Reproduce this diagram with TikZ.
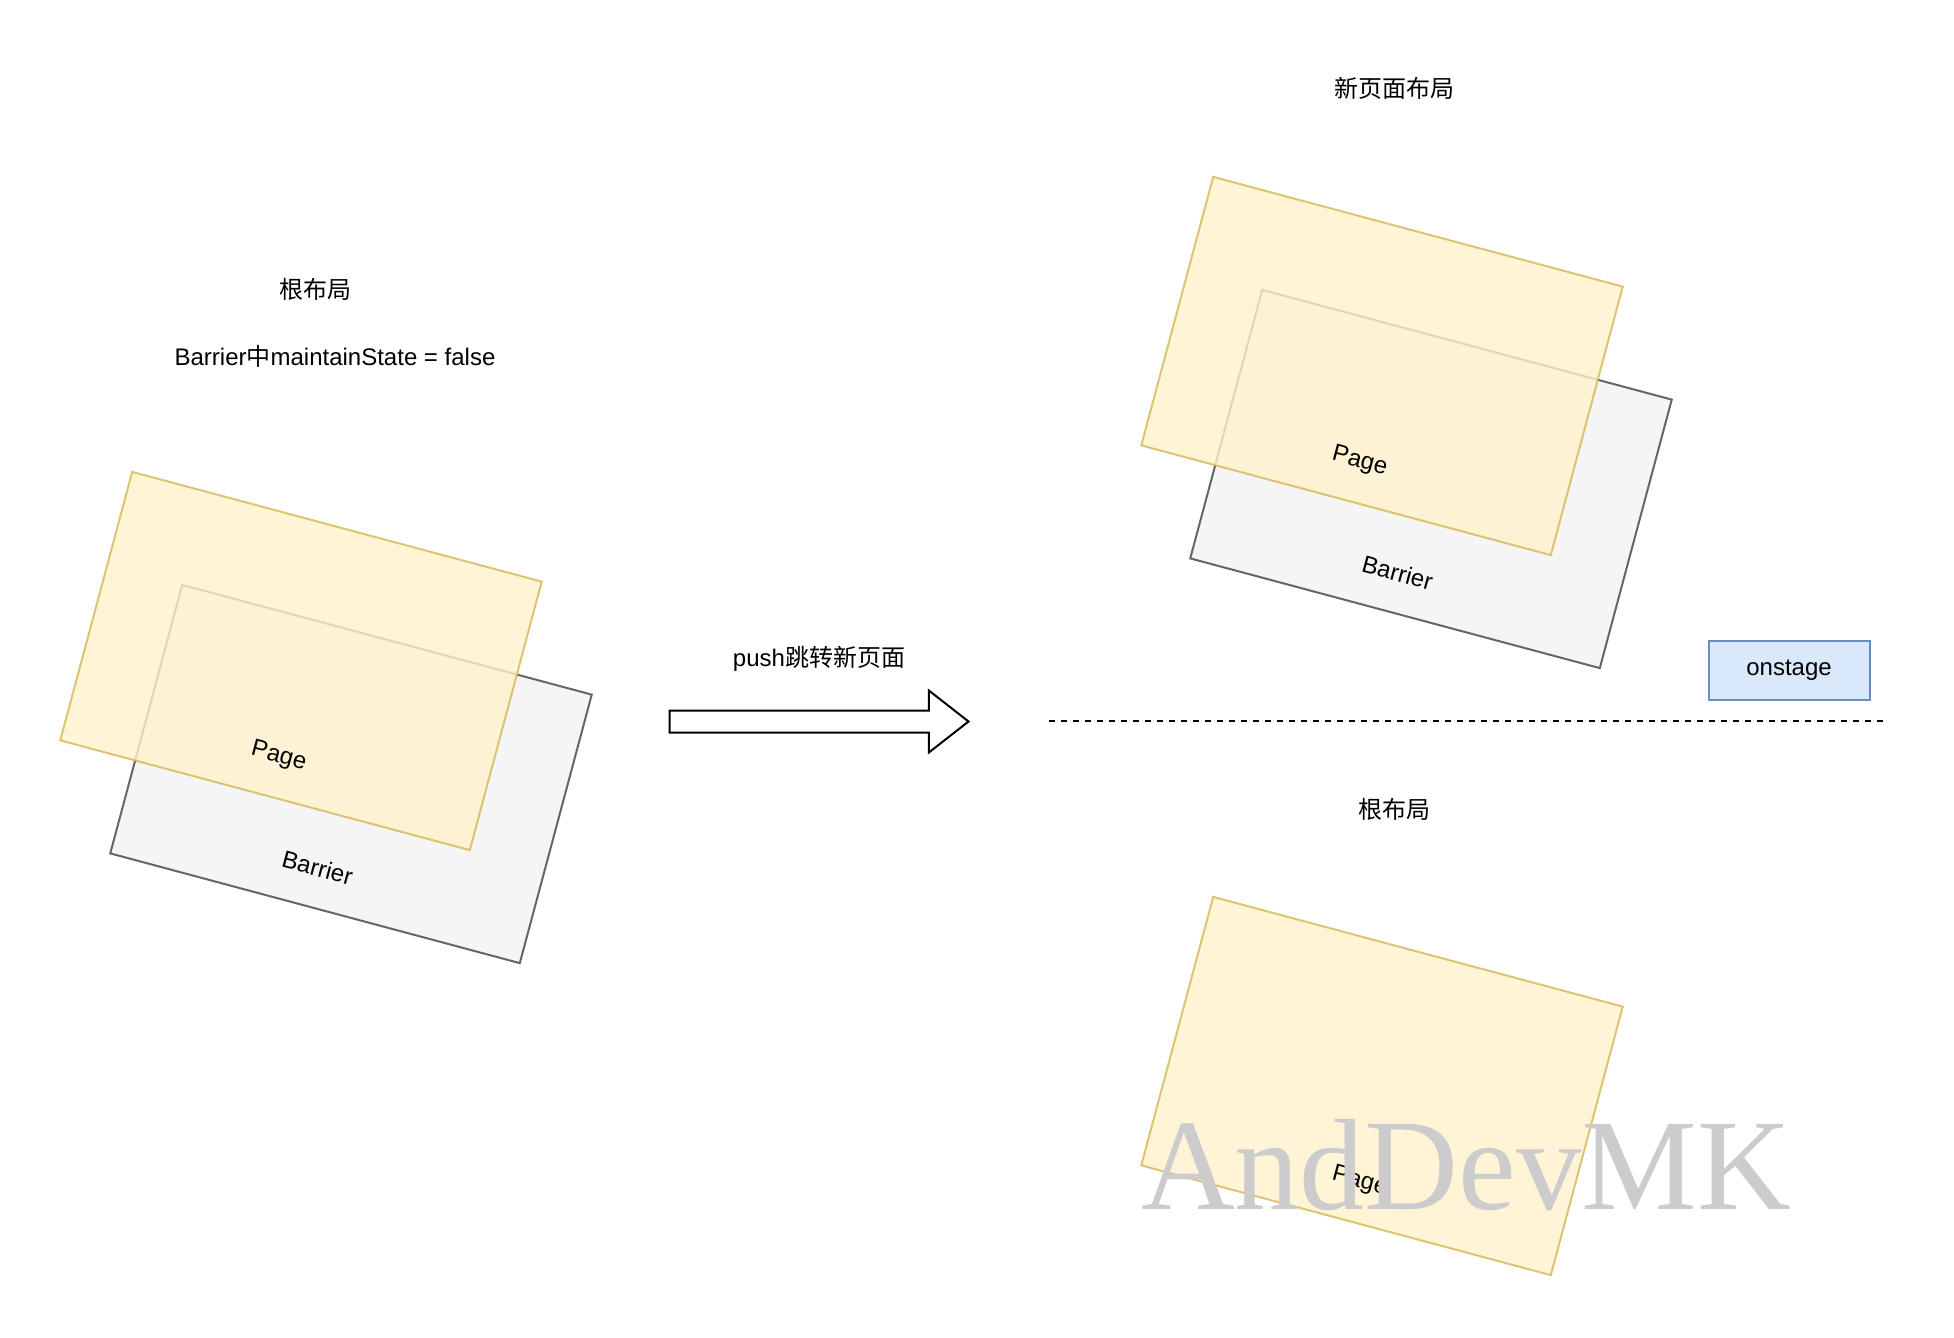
\documentclass[tikz,border=0pt]{standalone}
\usepackage{fontspec}
\setmainfont{Liberation Sans}
\newfontfamily\cjk{Noto Sans CJK SC}
\newfontfamily\wmfont{Liberation Serif}
\usepackage{tikz}
\usetikzlibrary{shapes.arrows}

\definecolor{pagefill}{HTML}{FFF2CC}
\definecolor{pageline}{HTML}{D6B656}
\definecolor{barrierfill}{HTML}{F5F5F5}
\definecolor{barrierline}{HTML}{666666}
\definecolor{stagefill}{HTML}{DAE8FC}
\definecolor{stageline}{HTML}{6C8EBF}
\definecolor{wmgray}{HTML}{CCCCCC}

\begin{document}
\begin{tikzpicture}[x=0.5pt,y=-0.5pt]
  \tikzset{PageStyle/.style = {
    shape         = rectangle,
    draw          = pageline,
    fill          = pagefill,
    opacity       = 0.8,
    line width    = 1pt,
    minimum width = 212pt,
    minimum height= 139pt,
    inner sep     = 0pt,
    rotate        = -15
    }
  }
  \tikzset{BarrierStyle/.style = {
    shape         = rectangle,
    draw          = barrierline,
    fill          = barrierfill,
    line width    = 1pt,
    minimum width = 212pt,
    minimum height= 139pt,
    inner sep     = 0pt,
    rotate        = -15
    }
  }
  \tikzset{TextStyle/.style = {
    text          = black,
    inner sep     = 1pt,
    font          = \fontsize{12}{14}\selectfont
    }
  }
  \tikzset{LabelStyle/.style = {
    TextStyle,
    rotate        = -15
    }
  }
  \tikzset{StageStyle/.style = {
    TextStyle,
    shape         = rectangle,
    draw          = stageline,
    fill          = stagefill,
    line width    = 1pt,
    minimum width = 80.5pt,
    minimum height= 29.5pt
    }
  }
  \tikzset{PushStyle/.style = {
    shape                   = single arrow,
    draw                    = black,
    fill                    = white,
    line width              = 1pt,
    inner xsep              = 0pt,
    inner ysep              = 5pt,
    minimum height          = 149.5pt,
    single arrow head extend= 10pt,
    single arrow tip angle  = 76
    }
  }
  \tikzset{DashStyle/.style = {
    draw          = black,
    line width    = 1pt,
    dash pattern  = on 3.2pt off 2.8pt
    }
  }
  \tikzset{WaterStyle/.style = {
    text          = wmgray,
    inner sep     = 0pt,
    anchor        = base,
    font          = \wmfont\fontsize{65}{70}\selectfont
    }
  }

  \useasboundingbox (0,0) rectangle (1954,1338);

  % left: root layout
  \node[TextStyle](T1) at (315,289) {\cjk 根布局};
  \node[TextStyle](T2) at (335,356) {Barrier{\cjk 中}maintainState = false};
  \node[BarrierStyle](B1) at (351,774) {};
  \node[PageStyle](P1) at (301,661) {};
  \path (P1.center) -- (P1.south) node[xshift=1.5pt, yshift=-0.5pt, LabelStyle, pos=0.70](P1t) {Page};
  \path (B1.center) -- (B1.south) node[xshift=-3.7pt, yshift=1.8pt, LabelStyle, pos=0.72](B1t) {Barrier};

  % push
  \node[TextStyle](T3) at (819,659) {push{\cjk 跳转新页面}};
  \node[PushStyle](A1) at (812,721.5) {};

  % right top: new page layout
  \node[TextStyle](T4) at (1394,88) {\cjk 新页面布局};
  \node[BarrierStyle](B2) at (1431,479) {};
  \node[PageStyle](P2) at (1382,366) {};
  \path (P2.center) -- (P2.south) node[xshift=1.5pt, yshift=-0.5pt, LabelStyle, pos=0.70](P2t) {Page};
  \path (B2.center) -- (B2.south) node[xshift=-3.7pt, yshift=1.8pt, LabelStyle, pos=0.72](B2t) {Barrier};
  \node[StageStyle](S1) at (1789,670) {onstage};

  %
  \coordinate (L1) at (1049,721);
  \coordinate (L2) at (1883,721);
  \draw[DashStyle](L1) -- (L2);

  % right bottom: root layout
  \node[TextStyle](T5) at (1394,809) {\cjk 根布局};
  \node[PageStyle](P3) at (1382,1086) {};
  \path (P3.center) -- (P3.south) node[xshift=1.5pt, yshift=-0.5pt, LabelStyle, pos=0.70](P3t) {Page};

  \node[WaterStyle](W1) at (1466,1209) {AndDevMK};

\end{tikzpicture}
\end{document}
